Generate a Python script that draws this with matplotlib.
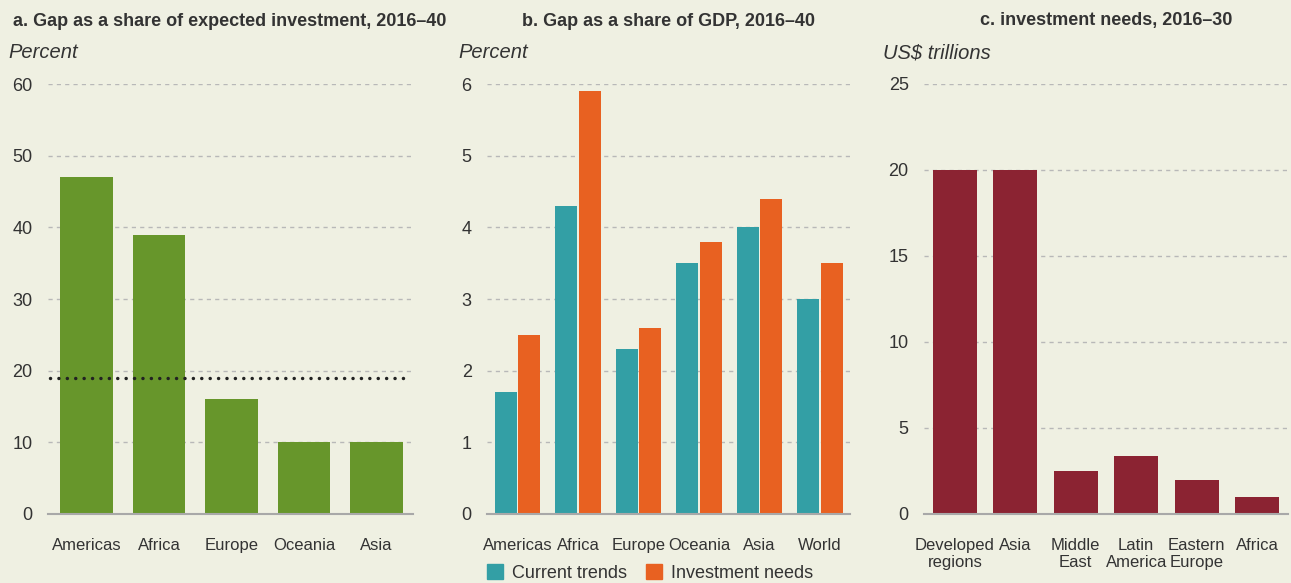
import numpy as np
import matplotlib.pyplot as plt
from matplotlib.patches import Patch

# panel a: gap as a share of expected investment
regions_a = ["Americas", "Africa", "Europe", "Oceania", "Asia"]
gap_invest = [47, 39, 16, 10, 10]
gap_invest_avg = 19

# panel b: gap as a share of GDP
regions_b = ["Americas", "Africa", "Europe", "Oceania", "Asia", "World"]
current_trends = [1.7, 4.3, 2.3, 3.5, 4.0, 3.0]
investment_needs = [2.5, 5.9, 2.6, 3.8, 4.4, 3.5]

# panel c: investment needs 2016-30
regions_c = ["Developed\nregions", "Asia", "Middle\nEast", "Latin\nAmerica", "Eastern\nEurope", "Africa"]
needs_usd = [20, 20, 2.5, 3.4, 2.0, 1.0]

BG = "#EFF0E2"
TXT = "#333333"
GREEN = "#67962B"
TEAL = "#339FA5"
ORANGE = "#E86121"
MAROON = "#8B2332"

plt.rcParams['font.family'] = ['Liberation Sans', 'DejaVu Sans']

fig = plt.figure(figsize=(12.91, 5.83), dpi=100, facecolor=BG)
W, H = 1291, 583


def make_ax(left, right, ymax, yticks):
    ax = fig.add_axes([left / W, (H - 514) / H, (right - left) / W, 430 / H])
    ax.set_facecolor(BG)
    ax.set_ylim(0, ymax)
    ax.set_yticks(yticks)
    for s in ["top", "right", "left"]:
        ax.spines[s].set_visible(False)
    ax.spines["bottom"].set_color("#A8A8A8")
    ax.spines["bottom"].set_linewidth(1.5)
    ax.tick_params(axis="y", length=0, pad=11, labelsize=13, labelcolor=TXT)
    ax.tick_params(axis="x", length=0, pad=17, labelsize=12, labelcolor=TXT)
    for t in yticks[1:]:
        ax.axhline(t, color="#B8B8B8", lw=1, ls=(0, (3, 3)), zorder=0)
    return ax


# a
ax1 = make_ax(48, 413, 60, [0, 10, 20, 30, 40, 50, 60])
x1 = np.arange(len(regions_a))
ax1.bar(x1, gap_invest, width=0.73, color=GREEN, zorder=2)
ax1.set_xlim(-0.531, 4.503)
ax1.set_xticks(x1)
ax1.set_xticklabels(regions_a)
ax1.plot([-0.50, 4.41], [gap_invest_avg, gap_invest_avg], color="#222222", lw=2.5,
         ls=(0, (0.02, 2.4)), dash_capstyle="round", zorder=3)

# b
ax2 = make_ax(487, 850, 6, [0, 1, 2, 3, 4, 5, 6])
x2 = np.arange(len(regions_b))
ax2.bar(x2 - 0.198, current_trends, width=0.364, color=TEAL, zorder=2)
ax2.bar(x2 + 0.198, investment_needs, width=0.364, color=ORANGE, zorder=2)
ax2.set_xlim(-0.504, 5.496)
ax2.set_xticks(x2)
ax2.set_xticklabels(regions_b)

# c
ax3 = make_ax(924, 1288, 25, [0, 5, 10, 15, 20, 25])
x3 = np.arange(len(regions_c))
ax3.bar(x3, needs_usd, width=0.728, color=MAROON, zorder=2)
ax3.set_xlim(-0.513, 5.513)
ax3.set_xticks(x3)
ax3.set_xticklabels(regions_c, linespacing=1.2, va="top")

# titles and unit labels
title_kw = dict(fontsize=13, fontweight="bold", color=TXT, va="center", ha="center")
fig.text(230 / W, 1 - 21 / H, "a. Gap as a share of expected investment, 2016–40", **title_kw)
fig.text(668 / W, 1 - 21 / H, "b. Gap as a share of GDP, 2016–40", **title_kw)
fig.text(1106 / W, 1 - 21 / H, "c. investment needs, 2016–30", **title_kw)
for xpx, lab in [(8, "Percent"), (458, "Percent"), (883, "US$ trillions")]:
    fig.text(xpx / W, 1 - 53 / H, lab, fontsize=14.5, style="italic", color=TXT,
             va="center", ha="left")

# legend under panel b
fig.legend(handles=[Patch(color=TEAL, label="Current trends"),
                    Patch(color=ORANGE, label="Investment needs")],
           loc="center left", bbox_to_anchor=(480 / W, 1 - 573 / H), ncol=2,
           frameon=False, fontsize=13, handlelength=0.9, handleheight=0.9,
           handletextpad=0.5, columnspacing=1.0, labelcolor=TXT, borderaxespad=0)

fig.savefig("out.png", dpi=100, facecolor=BG)
